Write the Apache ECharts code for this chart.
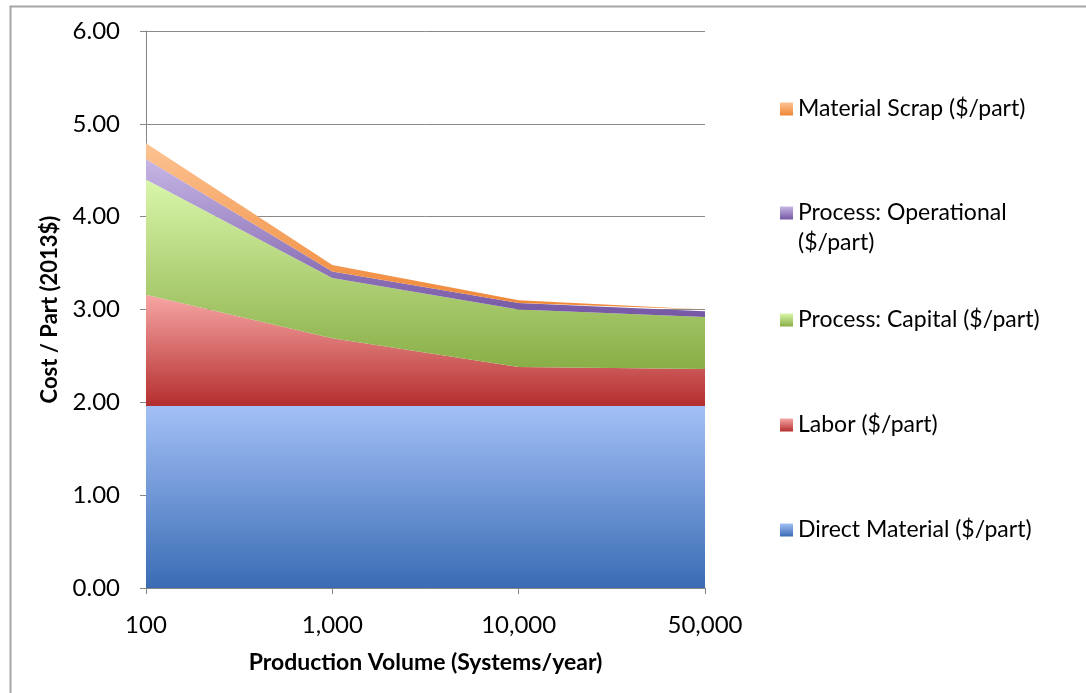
<!DOCTYPE html>
<html>
<head>
<meta charset="utf-8">
<script src="https://cdn.jsdelivr.net/npm/echarts@6/dist/echarts.min.js"></script>
<style>
html,body{margin:0;padding:0;background:#fff;}
#chart{width:1086px;height:693px;}
</style>
</head>
<body>
<div id="chart"></div>
<script>
var categories = ['100', '1,000', '10,000', '50,000'];
var directMaterial = [1.96, 1.96, 1.96, 1.96];
var labor = [1.20, 0.73, 0.42, 0.40];
var capital = [1.24, 0.65, 0.62, 0.56];
var operational = [0.22, 0.07, 0.07, 0.06];
var scrap = [0.17, 0.07, 0.03, 0.02];
var yTicks = [0, 1, 2, 3, 4, 5, 6];

var FONT = 'Lato';
function grad(top, bottom) {
  return new echarts.graphic.LinearGradient(0, 0, 0, 1, [
    {offset: 0, color: top}, {offset: 1, color: bottom}
  ]);
}
var names = ['Direct Material ($/part)', 'Labor ($/part)', 'Process: Capital ($/part)', 'Process: Operational ($/part)', 'Material Scrap ($/part)'];
var datas = [directMaterial, labor, capital, operational, scrap];
var colors = [
  ['#a3c0f6', '#3a6cb4'],
  ['#f6a6a4', '#b42e2e'],
  ['#d9f6aa', '#89ae46'],
  ['#c6b6e4', '#7557a4'],
  ['#fcc392', '#ef8636']
];
var series = names.map(function (n, i) {
  return {
    name: n,
    type: 'line',
    stack: 'total',
    data: datas[i],
    showSymbol: false,
    symbol: 'none',
    lineStyle: {width: 0},
    itemStyle: {color: grad(colors[i][0], colors[i][1])},
    areaStyle: {color: grad(colors[i][0], colors[i][1]), opacity: 1},
    silent: true
  };
});
var legendTops = [515, 410, 305, 168, 94];
var legends = names.map(function (n, i) {
  var two = (i === 3);
  return {
    orient: 'vertical',
    left: 780,
    top: legendTops[i],
    icon: 'rect',
    itemWidth: 13,
    itemHeight: 13,
    itemGap: 0,
    selectedMode: false,
    padding: 0,
    data: [n],
    formatter: two ? function () { return ' \nProcess: Operational\n($/part)'; } : undefined,
    textStyle: {fontFamily: FONT, fontSize: 23, color: '#000', lineHeight: 30}
  };
});

var chart = echarts.init(document.getElementById('chart'));
chart.setOption({
  animation: false,
  backgroundColor: '#fff',
  graphic: [{
    type: 'rect',
    shape: {x: 10.5, y: 6.5, width: 1300, height: 900},
    style: {fill: 'none', stroke: '#a6a6a6', lineWidth: 2},
    silent: true
  }],
  legend: legends,
  grid: {left: 146, right: 381, top: 31, bottom: 105},
  xAxis: {
    type: 'category',
    data: categories,
    boundaryGap: false,
    axisLine: {lineStyle: {color: '#868686', width: 1}},
    axisTick: {show: true, length: 6, alignWithLabel: true, lineStyle: {color: '#868686'}},
    axisLabel: {fontFamily: FONT, fontSize: 24, color: '#000', margin: 25},
    name: 'Production Volume (Systems/year)',
    nameLocation: 'middle',
    nameGap: 63,
    nameTextStyle: {fontFamily: FONT, fontSize: 23, fontWeight: 'bold', color: '#000'}
  },
  yAxis: {
    type: 'value',
    min: yTicks[0],
    max: yTicks[yTicks.length - 1],
    interval: 1,
    axisLine: {show: true, lineStyle: {color: '#868686'}},
    axisTick: {show: true, length: 6, lineStyle: {color: '#868686'}},
    splitLine: {show: true, lineStyle: {color: '#8a8a8a', width: 1}},
    axisLabel: {
      fontFamily: FONT, fontSize: 24, color: '#000', margin: 26,
      formatter: function (v) { return v.toFixed(2); }
    },
    name: 'Cost / Part (2013$)',
    nameLocation: 'middle',
    nameRotate: 90,
    nameGap: 85,
    nameTextStyle: {fontFamily: FONT, fontSize: 22, fontWeight: 'bold', color: '#000'}
  },
  series: series
});
</script>
</body>
</html>
